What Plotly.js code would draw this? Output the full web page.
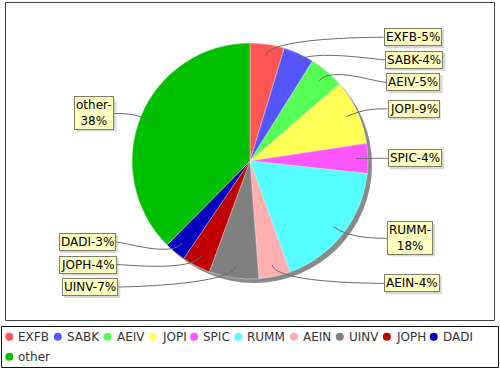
<!DOCTYPE html>
<html><head><meta charset="utf-8">
<script src="https://cdn.plot.ly/plotly-3.0.1.min.js"></script>
<style>html,body{margin:0;padding:0;background:#fff}#chart{width:500px;height:370px}</style>
</head><body><div id="chart"></div>
<script>
// ---- data ----
const categories = ['EXFB','SABK','AEIV','JOPI','SPIC','RUMM','AEIN','UINV','JOPH','DADI','other'];
const values = [4.7, 4.2, 4.8, 8.9, 4.1, 17.8, 4.3, 6.8, 3.9, 2.9, 37.6];
const colors = ['#FF5555','#5555FF','#55FF55','#FFFF55','#FF55FF','#55FFFF','#FFAFAF','#808080','#C00000','#0000C0','#00C000'];

// ---- geometry helpers ----
const W = 500, H = 370;
const px = x => x / W, py = y => 1 - y / H;
const cx = 250, cy = 161, r = 118;
const FONT = 'DejaVu Sans';
const ctx = document.createElement('canvas').getContext('2d');
ctx.font = '12px "DejaVu Sans"';
const tw = s => ctx.measureText(s).width;

const total = values.reduce((a, b) => a + b, 0);
let cum = 0;
const slices = values.map((v, i) => {
  const a0 = cum / total * 2 * Math.PI; cum += v;
  const a1 = cum / total * 2 * Math.PI;
  return {i, mid: (a0 + a1) / 2, pct: v / total * 100};
});

// ---- pie labels ----
const labels = slices.map(s => {
  let txt = categories[s.i] + '-' + Math.round(s.pct) + '%';
  let lines = 1, wmax = tw(txt);
  if (wmax > 60) {
    const k = txt.indexOf('-') + 1;
    wmax = Math.max(tw(txt.slice(0, k)), tw(txt.slice(k)));
    txt = txt.slice(0, k) + '<br>' + txt.slice(k); lines = 2;
  }
  const sx = Math.sin(s.mid), cv = Math.cos(s.mid);
  return Object.assign({}, s, {txt, lines, wmax, h: lines === 1 ? 18 : 32, right: sx >= 0, ny: cy - 1.06 * r * cv, sx, cv});
});
function distribute(arr, maxY) {
  arr.sort((a, b) => a.ny - b.ny);
  arr.forEach((l, k) => {
    l.y = l.ny;
    if (k > 0) { const p = arr[k - 1]; const g = (p.h + l.h) / 2 + 4.5; if (l.y < p.y + g) l.y = p.y + g; }
  });
  const last = arr[arr.length - 1];
  if (last.y > maxY) {
    last.y = maxY;
    for (let k = arr.length - 2; k >= 0; k--) {
      const n = arr[k + 1], l = arr[k]; const g = (n.h + l.h) / 2 + 4.5;
      if (l.y > n.y - g) l.y = n.y - g;
    }
  }
}
distribute(labels.filter(l => l.right), 287);
distribute(labels.filter(l => !l.right), 287);

const shapes = [];
const annotations = [];

// plot outline & pie shadow
shapes.push({type: 'rect', xref: 'paper', yref: 'paper', x0: px(5.5), x1: px(494.5), y0: py(2.5), y1: py(320.5), line: {color: '#444', width: 1}, layer: 'below'});
shapes.push({type: 'circle', xref: 'paper', yref: 'paper', x0: px(cx - r + 4), x1: px(cx + r + 4), y0: py(cy - r + 4), y1: py(cy + r + 4), fillcolor: '#8a8a8a', line: {width: 0}, layer: 'below'});

labels.forEach(l => {
  const edgeX = l.right ? cx + 133 + 5 * Math.abs(l.sx) : cx - 131 - 5 * Math.abs(l.sx);
  const p0 = [cx + 0.9 * r * l.sx, cy - 0.9 * r * l.cv];
  const p1 = [cx + 1.06 * r * l.sx, cy - 1.06 * r * l.cv];
  const p2 = [l.right ? cx + 1.06 * r : cx - 1.06 * r, l.y];
  const p3 = [edgeX, l.y];
  const f = p => px(p[0]).toFixed(5) + ',' + py(p[1]).toFixed(5);
  shapes.push({type: 'path', xref: 'paper', yref: 'paper', path: 'M' + f(p0) + ' C' + f(p1) + ' ' + f(p2) + ' ' + f(p3), line: {color: '#6a6a6a', width: 1}});
  // label shadow (offset box)
  const bw = l.wmax + 4, bh = l.h;
  const bx0 = l.right ? edgeX : edgeX - bw;
  shapes.push({type: 'rect', xref: 'paper', yref: 'paper', x0: px(bx0 + 2), x1: px(bx0 + bw + 2), y0: py(l.y - bh / 2 + 2), y1: py(l.y + bh / 2 + 2), fillcolor: 'rgba(140,140,140,0.35)', line: {width: 0}});
  annotations.push({xref: 'paper', yref: 'paper', x: px(edgeX), y: py(l.y), xanchor: l.right ? 'left' : 'right', yanchor: 'middle', showarrow: false, text: l.txt, align: 'center', borderpad: 1,
    font: {family: FONT, size: 12, color: '#000'}, bgcolor: '#FFFFC0', bordercolor: '#7d7d69', borderwidth: 1});
});

// ---- legend (JFreeChart-style flow with circles) ----
shapes.push({type: 'rect', xref: 'paper', yref: 'paper', x0: px(1.5), x1: px(498.5), y0: py(326.5), y1: py(367.5), line: {color: '#111', width: 1}});
let lx = 5.3, row = 0;
const rowY = [336.8, 356.8];
categories.forEach((c, i) => {
  const w = 12 + tw(c);
  if (lx + w > 494) { row++; lx = 5.3; }
  const yy = rowY[row];
  shapes.push({type: 'circle', xref: 'paper', yref: 'paper', x0: px(lx), x1: px(lx + 8), y0: py(yy - 4), y1: py(yy + 4), fillcolor: colors[i], line: {width: 0}});
  annotations.push({xref: 'paper', yref: 'paper', x: px(lx + 12), y: py(yy), xanchor: 'left', yanchor: 'middle', showarrow: false, text: c, borderpad: 0, font: {family: FONT, size: 12, color: '#333'}});
  lx += w + 5.6;
});

const trace = {
  type: 'pie', labels: categories, values: values, sort: false, direction: 'clockwise', rotation: 0,
  marker: {colors: colors, line: {color: 'rgba(255,255,255,0.7)', width: 0.5}},
  textinfo: 'none', hoverinfo: 'label+percent', showlegend: false,
  domain: {x: [px(cx - r), px(cx + r)], y: [py(cy + r), py(cy - r)]}
};

Plotly.newPlot('chart', [trace], {
  width: W, height: H, margin: {l: 0, r: 0, t: 0, b: 0},
  paper_bgcolor: '#fff', plot_bgcolor: '#fff', showlegend: false,
  shapes: shapes, annotations: annotations
}, {displayModeBar: false, staticPlot: true});
</script></body></html>
